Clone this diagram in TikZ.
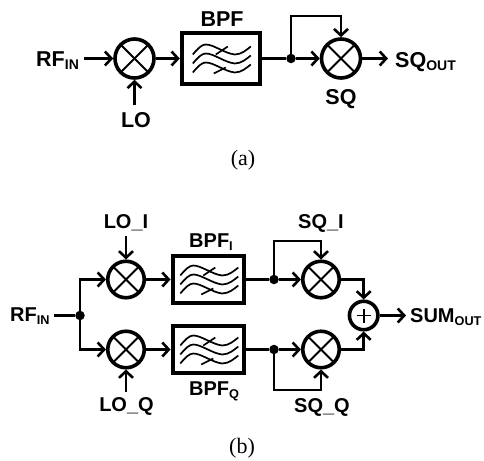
\documentclass[tikz,border=0pt]{standalone}
\usepackage{fontspec}
\setmainfont{Liberation Sans}
\newfontfamily\capfont{Liberation Serif}
\usetikzlibrary{arrows.meta,calc}
\newcommand{\bpfwaves}[1]{%
 \begin{scope}[shift={(path picture bounding box.center)},scale=#1]
  \foreach \d in {-1,8,17}{
   \draw[line width=1.7pt] (-28,\d-3) .. controls (-23,\d-9) and (-19,\d-13) .. (-15,\d-13) .. controls (-7,\d-13) and (4,\d-4) .. (14,\d-3) .. controls (21,\d-3) and (26,\d-8) .. (30,\d-11);
  }
  \draw[line width=1.7pt] (-5,-4) -- (7,-12);
  \draw[line width=1.7pt] (-7,15) -- (5,9);
 \end{scope}}
\tikzset{
 x=1pt,y=-1pt,
 wire/.style={line width=2.6pt},
 arr/.style={wire,-{Straight Barb[length=6.5pt,width=14pt,line width=2.6pt]}},
 mixa/.style={circle,draw,line width=3.6pt,inner sep=0pt,minimum size=39pt,
  path picture={\draw[line width=1.9pt] ($(path picture bounding box.center)+(-13,-13)$) -- ($(path picture bounding box.center)+(13,13)$);
  \draw[line width=1.9pt] ($(path picture bounding box.center)+(-13,13)$) -- ($(path picture bounding box.center)+(13,-13)$);}},
 mixb/.style={mixa,minimum size=36.5pt},
 suma/.style={circle,draw,line width=3.6pt,inner sep=0pt,minimum size=28.5pt,
  path picture={\draw[line width=1.9pt] ($(path picture bounding box.center)+(-7,0)$) -- ($(path picture bounding box.center)+(7,0)$);
  \draw[line width=1.9pt] ($(path picture bounding box.center)+(0,-7)$) -- ($(path picture bounding box.center)+(0,7)$);}},
 bpfa/.style={rectangle,draw,line width=4pt,inner sep=0pt,minimum width=78pt,minimum height=51pt,path picture={\bpfwaves{1}}},
 bpfb/.style={rectangle,draw,line width=4pt,inner sep=0pt,minimum width=71.5pt,minimum height=47pt,path picture={\bpfwaves{0.93}}},
 dotn/.style={circle,fill=black,inner sep=0pt,minimum size=9.5pt},
 lab/.style={inner sep=0pt,font=\fontsize{21.5}{24}\selectfont\bfseries},
 labb/.style={inner sep=0pt,font=\fontsize{20}{24}\selectfont\bfseries},
 captext/.style={inner sep=0pt,font=\fontsize{22}{24}\selectfont\capfont},
}
\newcommand{\lowtxt}[1]{{\fontsize{14}{14}\selectfont\raisebox{-3pt}{#1}}}
\newcommand{\lowtxb}[1]{{\fontsize{12.7}{14}\selectfont\raisebox{-3pt}{#1}}}
\begin{document}
\begin{tikzpicture}
\useasboundingbox (0,0) rectangle (484,460);
% (a)
\node[mixa] (m1) at (134.5,58.5) {};
\node[bpfa] (f1) at (220.8,58.5) {};
\node[dotn] (j1) at (291,58.5) {};
\node[mixa] (m2) at (341,58.5) {};
\node[lab,anchor=west] (rf1) at (36,60.5) {RF\lowtxt{IN}};
\node[lab] (lo1) at (136,120) {LO};
\node[lab] (bpf1) at (222,19) {BPF};
\node[lab] (sq1) at (341,99) {SQ};
\node[lab,anchor=west] (sqo) at (395,62) {SQ\lowtxt{OUT}};
\node[captext] (ca) at (243,160) {(a)};
\coordinate (ai) at (84,58.5);
\coordinate (lo1s) at (134.5,105);
\coordinate (fa) at (291,16);
\coordinate (ao) at (388,58.5);
\draw[arr] (ai) -- (m1.west);
\draw[arr] (lo1s) -- (m1.south);
\draw[arr] (m1.east) -- (f1.west);
\draw[wire] (f1.east) -- (j1);
\draw[arr] (j1) -- (m2.west);
\draw[arr] (j1) -- (fa) -| (m2.north);
\draw[arr] (m2.east) -- (ao);
% (b)
\node[mixb] (mi) at (126,279.5) {};
\node[mixb] (mq) at (126,349.5) {};
\node[bpfb] (fi) at (208.3,279.5) {};
\node[bpfb] (fq) at (208.3,349.5) {};
\node[dotn] (ji) at (274,279.5) {};
\node[dotn] (jq) at (274,349.5) {};
\node[mixb] (si) at (321,279.5) {};
\node[mixb] (sq) at (321,349.5) {};
\node[suma] (sum) at (363.7,315.5) {};
\node[dotn] (j0) at (80,315.5) {};
\node[labb,anchor=west] (rf2) at (10,316.5) {RF\lowtxb{IN}};
\node[labb] (loi) at (126,223) {LO\_I};
\node[labb] (loq) at (126.5,406) {LO\_Q};
\node[labb] (bi) at (211,242) {BPF\lowtxb{I}};
\node[labb] (bq) at (214,391) {BPF\lowtxb{Q}};
\node[labb] (sqi) at (321,223) {SQ\_I};
\node[labb] (sqq) at (322,407) {SQ\_Q};
\node[labb,anchor=west] (so) at (410,317) {SUM\lowtxb{OUT}};
\node[captext] (cb) at (242,448) {(b)};
\coordinate (b0) at (54,315.5);
\coordinate (u) at (80,279.5);
\coordinate (d) at (80,349.5);
\coordinate (loia) at (126,236);
\coordinate (loqa) at (126,392);
\coordinate (fbi) at (274,241);
\coordinate (fbq) at (274,390);
\coordinate (bo) at (406,315.5);
\draw[wire] (b0) -- (j0);
\draw[arr] (j0) -- (u) -- (mi.west);
\draw[arr] (j0) -- (d) -- (mq.west);
\draw[arr] (loia) -- (mi.north);
\draw[arr] (loqa) -- (mq.south);
\draw[arr] (mi.east) -- (fi.west);
\draw[arr] (mq.east) -- (fq.west);
\draw[wire] (fi.east) -- (ji);
\draw[wire] (fq.east) -- (jq);
\draw[arr] (ji) -- (si.west);
\draw[arr] (jq) -- (sq.west);
\draw[arr] (ji) -- (fbi) -| (si.north);
\draw[arr] (jq) -- (fbq) -| (sq.south);
\draw[arr] (si.east) -| (sum.north);
\draw[arr] (sq.east) -| (sum.south);
\draw[arr] (sum.east) -- (bo);
\end{tikzpicture}
\end{document}
